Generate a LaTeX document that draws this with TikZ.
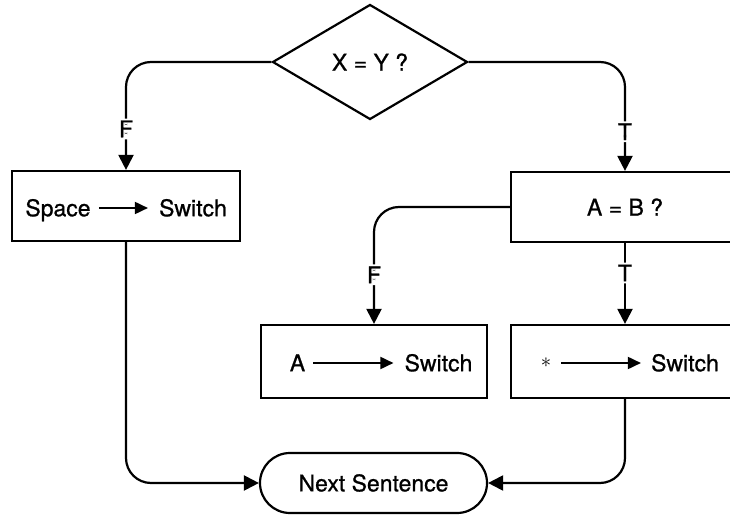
\documentclass[tikz,border=0pt]{standalone}
\usepackage{fontspec}
\setmainfont{TeX Gyre Heros}[FakeBold=0.8]
\usetikzlibrary{shapes,arrows,arrows.meta,calc,positioning,shapes.geometric}
\tikzset{
>={Triangle[length=15pt,width=15pt]},
  stepbox/.style={
    rectangle,
    draw=black, line width=2.2pt,
    minimum height=70pt,
    inner sep=0pt},
  test/.style={
    diamond,
    aspect=1.7,
    draw=black, line width=2.2pt,
    minimum width=195pt,
    minimum height=115pt,
    inner sep=2pt},
  terminal/.style={
    rectangle,
    rounded corners=30pt,
    draw=black, line width=2.2pt,
    minimum width=227pt,
    minimum height=60pt},
  line/.style={draw, line width=2.2pt, rounded corners=25pt, ->},
  word/.style={inner sep=0pt, text height=16.5pt, text depth=0pt},
  move/.style={line width=1.8pt, -{Triangle[length=13pt,width=12pt]}},
  branch/.style={fill=white, inner sep=2pt},
}

\begin{document}
\begin{tikzpicture}[
    x=1pt, y=1pt,
    every node/.style={font=\fontsize{23}{27}\selectfont}
    ]
    \useasboundingbox (0,0) rectangle (730,514);
    \clip (0,0) rectangle (730,514);

    %decision
    \node[test] (xy) at (370,452) {X = Y ?};

    %false branch
    \node[stepbox, minimum width=228pt] (space) at (126,308) {};
    \node[word] (spc) at (58,306) {Space};
    \node[word] (sws) at (193,306) {Switch};
    \draw[move, shorten <=8pt, shorten >=11pt] (spc) -- (sws);

    %true branch
    \node[stepbox, minimum width=228pt] (ab) at (625,307) {A = B ?};

    \node[stepbox, minimum width=226pt, minimum height=73pt] (aa) at (374,152.5) {};
    \node[word] (ach) at (297.5,151) {A};
    \node[word] (swb) at (438.5,151) {Switch};
    \draw[move, shorten <=8pt, shorten >=11pt] (ach) -- (swb);

    \node[stepbox, minimum width=228pt, minimum height=73pt] (star) at (625,152.5) {};
    \node[inner sep=0pt] (stc) at (546,151) {\fontsize{21}{21}\selectfont$\ast$};
    \node[word] (swc) at (685,151) {Switch};
    \draw[move, shorten <=10pt, shorten >=10pt] (stc) -- (swc);

    %end
    \node[terminal] (next) at (373.5,31) {Next Sentence};

    %connectors
    \draw[line] (xy.west) -| (space.north) node[branch, pos=0.81] {F};
    \draw[line] (xy.east) -| (ab.north) node[branch, pos=0.82] {T};
    \draw[line] (ab.west) -| (aa.north) node[branch, pos=0.79] {F};
    \draw[line] (ab.south) -- (star.north) node[branch, pos=0.37] {T};
    \draw[line] (space.south) |- (next.west);
    \draw[line] (star.south) |- (next.east);

\end{tikzpicture}
\end{document}
